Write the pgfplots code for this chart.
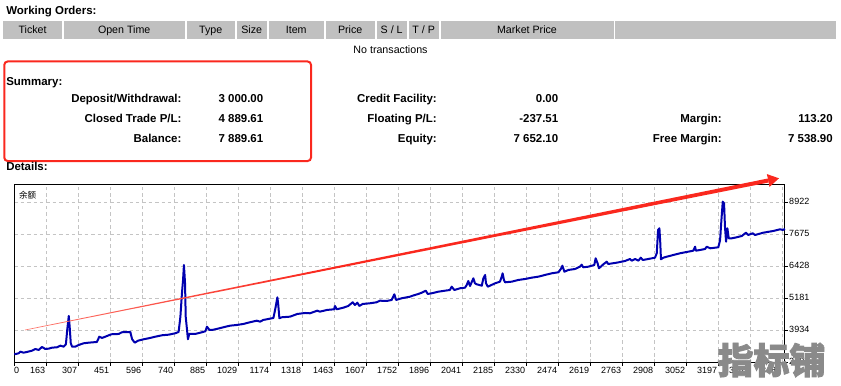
\documentclass[border=0pt]{standalone}
\usepackage{pgfplots}
\pgfplotsset{compat=1.18}
\usepackage{fontspec}
\setmainfont{Liberation Sans}
\newfontfamily\cjk{Noto Sans CJK SC}
\newfontfamily\cjkwm[FakeBold=2.2]{Noto Sans CJK SC}
\definecolor{hdr}{RGB}{192,192,192}
\definecolor{redA}{RGB}{250,40,30}
\definecolor{redB}{RGB}{255,205,205}
\definecolor{redC}{RGB}{252,120,110}
\definecolor{blueA}{RGB}{0,0,175}
\definecolor{gridc}{RGB}{196,196,196}
\definecolor{wm}{RGB}{138,138,138}
\newcommand\bfs{\fontsize{8.6}{10}\selectfont\bfseries}
\newcommand\rgs{\fontsize{8}{10}\selectfont}
\pgfdeclarehorizontalshading{arrowshade}{100bp}{color(0bp)=(redB);color(25bp)=(redC);color(45bp)=(redA);color(100bp)=(redA)}

\pgfplotstableread{
x y
0 2998
20 3037
27 3100
42 3061
57 3088
80 3139
95 3205
110 3166
125 3283
140 3205
155 3217
170 3256
193 3271
208 3334
223 3295
233 3388
239 3946
246 4491
250 4074
255 3427
261 3295
275 3295
291 3361
313 3427
336 3451
373 3478
384 3684
396 3634
419 3712
438 3778
471 3790
486 3856
524 3868
532 3583
544 3451
559 3529
584 3583
607 3622
637 3684
667 3739
697 3762
727 3817
742 3868
750 4464
757 5376
762 5894
766 6479
771 5765
774 4464
780 3946
784 3583
790 3790
817 3790
840 3840
863 3895
870 4074
881 3946
893 3946
914 3985
944 4051
974 4113
1004 4140
1034 4179
1064 4246
1095 4308
1110 4269
1124 4335
1147 4374
1170 4413
1179 4791
1188 5220
1192 4920
1197 4401
1207 4440
1245 4464
1278 4569
1313 4608
1335 4596
1368 4698
1380 4659
1411 4725
1444 4752
1448 4881
1456 4752
1486 4815
1508 4881
1528 5025
1538 4920
1549 5009
1558 4881
1573 4959
1606 4986
1636 5025
1651 5087
1682 5076
1704 5115
1716 5337
1724 5115
1749 5181
1787 5243
1795 5271
1824 5348
1840 5399
1858 5477
1867 5348
1885 5376
1915 5438
1945 5477
1967 5504
1975 5633
1987 5504
2013 5571
2035 5594
2043 5699
2050 5855
2058 5660
2065 5804
2073 5960
2080 5765
2088 5726
2111 5672
2118 5960
2126 6089
2130 5765
2138 5633
2148 5672
2171 5765
2193 5828
2201 6023
2205 6155
2211 5894
2216 5804
2246 5828
2276 5894
2306 5933
2336 5984
2366 6023
2396 6089
2427 6155
2457 6194
2467 6311
2475 6451
2484 6218
2502 6284
2532 6323
2554 6412
2562 6490
2569 6389
2592 6412
2619 6479
2625 6740
2634 6545
2640 6350
2660 6506
2675 6607
2682 6518
2720 6568
2758 6634
2780 6712
2788 6646
2803 6712
2818 6646
2829 6763
2838 6673
2863 6712
2893 6763
2901 6935
2907 7843
2913 7909
2917 7324
2920 6701
2931 6763
2946 6802
2976 6868
3006 6935
3036 6985
3066 7036
3074 7192
3078 7036
3096 7063
3119 7102
3127 7192
3142 7129
3179 7168
3187 7453
3193 8232
3199 8946
3205 8883
3209 7971
3214 7387
3220 7909
3226 7519
3240 7519
3262 7558
3285 7609
3304 7737
3314 7648
3334 7714
3345 7648
3382 7737
3427 7804
3458 7870
3470 7843
3480 7882
}\balance

\begin{document}
\begin{tikzpicture}
\begin{scope}[x=0.75pt,y=-0.75pt]
\useasboundingbox (0,0) rectangle (841,385);
\node[anchor=base west,inner sep=0] at (6,15) {\bfs Working Orders:};
% header cells
\fill[hdr] (3.3,21) rectangle (62,39);
\fill[hdr] (63.5,21) rectangle (185,39);
\fill[hdr] (186.5,21) rectangle (235,39);
\fill[hdr] (236.5,21) rectangle (267,39);
\fill[hdr] (268.5,21) rectangle (324,39);
\fill[hdr] (325.5,21) rectangle (375,39);
\fill[hdr] (376.5,21) rectangle (407,39);
\fill[hdr] (408.5,21) rectangle (439,39);
\fill[hdr] (440.5,21) rectangle (613.5,39);
\fill[hdr] (615,21) rectangle (836,39);
\node[anchor=base,inner sep=0] at (32.6,34) {\rgs Ticket};
\node[anchor=base,inner sep=0] at (124.2,34) {\rgs Open Time};
\node[anchor=base,inner sep=0] at (210.7,34) {\rgs Type};
\node[anchor=base,inner sep=0] at (251.7,34) {\rgs Size};
\node[anchor=base,inner sep=0] at (296.2,34) {\rgs Item};
\node[anchor=base,inner sep=0] at (350.2,34) {\rgs Price};
\node[anchor=base,inner sep=0] at (391.7,34) {\rgs S / L};
\node[anchor=base,inner sep=0] at (423.7,34) {\rgs T / P};
\node[anchor=base,inner sep=0] at (527,34) {\rgs Market Price};
\node[anchor=base,inner sep=0] at (390.5,54) {\rgs No transactions};
% summary
\node[anchor=base west,inner sep=0] at (6,85) {\bfs Summary:};
\node[anchor=base east,inner sep=0] at (181.7,102.3) {\bfs Deposit/Withdrawal:};
\node[anchor=base east,inner sep=0] at (181.7,122.3) {\bfs Closed Trade P/L:};
\node[anchor=base east,inner sep=0] at (181.7,142.3) {\bfs Balance:};
\node[anchor=base east,inner sep=0] at (263.5,102.3) {\bfs 3 000.00};
\node[anchor=base east,inner sep=0] at (263.5,122.3) {\bfs 4 889.61};
\node[anchor=base east,inner sep=0] at (263.5,142.3) {\bfs 7 889.61};
\node[anchor=base east,inner sep=0] at (437,102.3) {\bfs Credit Facility:};
\node[anchor=base east,inner sep=0] at (437,122.3) {\bfs Floating P/L:};
\node[anchor=base east,inner sep=0] at (437,142.3) {\bfs Equity:};
\node[anchor=base east,inner sep=0] at (558.5,102.3) {\bfs 0.00};
\node[anchor=base east,inner sep=0] at (558.5,122.3) {\bfs -237.51};
\node[anchor=base east,inner sep=0] at (558.5,142.3) {\bfs 7 652.10};
\node[anchor=base east,inner sep=0] at (722,122.3) {\bfs Margin:};
\node[anchor=base east,inner sep=0] at (722,142.3) {\bfs Free Margin:};
\node[anchor=base east,inner sep=0] at (833,122.3) {\bfs 113.20};
\node[anchor=base east,inner sep=0] at (833,142.3) {\bfs 7 538.90};
\draw[redA,line width=1.5pt,rounded corners=2.5pt] (4.3,61.5) rectangle (311,161);
\node[anchor=base west,inner sep=0] at (6,170) {\bfs Details:};
\end{scope}

\begin{axis}[
  at={(10.725pt,-138.225pt)}, anchor=north west,
  scale only axis, width=578pt, height=134pt,
  xmin=0, xmax=3480, ymin=2659.5, ymax=9623.4,
  axis line style={black,line width=0.75pt},
  xtick={0,144.5,289,433.5,578,722.5,867,1011.5,1156,1300.5,1445,1589.5,1734,1878.5,2023,2167.5,2312,2456.5,2601,2745.5,2890,3034.5,3179,3323.5,3468},
  xticklabels={\makebox[0pt][l]{\hspace{1.4pt}0},163,307,451,596,740,885,1029,1174,1318,1463,1607,1752,1896,2041,2185,2330,2474,2619,2763,2908,3052,3197,3341,3486},
  ytick={2687,3934,5181,6428,7675,8922},
  yticklabels={2687,3934,5181,6428,7675,8922},
  xtick pos=bottom, ytick pos=right, yticklabel pos=right,
  tick align=outside, major tick length=2pt,
  tick style={black,line width=0.6pt},
  grid=major,
  major grid style={gridc,line width=0.75pt,dash pattern=on 2.6pt off 2.2pt},
  x tick label style={font=\fontsize{6.75}{8}\selectfont,anchor=north east,inner sep=0pt,xshift=-0.75pt,yshift=-1pt},
  y tick label style={font=\fontsize{6.75}{8}\selectfont,anchor=west,inner sep=0pt,xshift=1pt,yshift=0.9pt},
  clip=false,
]
\addplot[blueA,line width=1.5pt,line join=round] table[x=x,y=y] {\balance};
\node[anchor=north west,inner sep=0pt] at (rel axis cs:0.006,0.96) {\cjk\fontsize{6.4}{7}\selectfont 余额};
\end{axis}

\begin{scope}[x=0.75pt,y=-0.75pt]
\shade[shading=arrowshade] (25.06,330.3) -- (24.94,329.7) -- (767.8,178.5) -- (768.6,182.5) -- cycle;
\fill[redA] (779,178.3) -- (766.9,174.1) -- (769.5,186.9) -- cycle;
\node[text=wm,inner sep=0pt] at (771.5,360) {\cjkwm\bfseries\fontsize{27}{27}\selectfont 指标铺};
\end{scope}
\end{tikzpicture}
\end{document}
